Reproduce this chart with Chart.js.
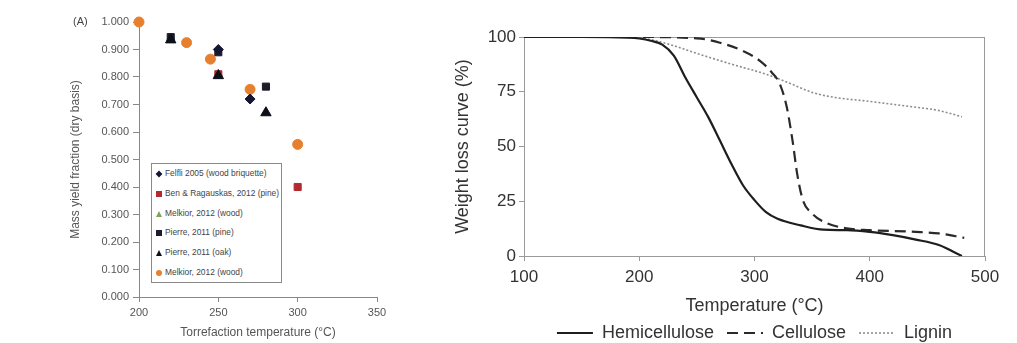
<!DOCTYPE html>
<html>
<head>
<meta charset="utf-8">
<script src="https://cdn.jsdelivr.net/npm/chart.js@4.4.1/dist/chart.umd.min.js"></script>
<style>
  body { margin: 0; background: #fff; font-family: "Liberation Sans", Arial, sans-serif; overflow: hidden; }
  #left { position: absolute; left: 0; top: 0; width: 420px; height: 343px; }
  #right { position: absolute; left: 440px; top: 0; width: 577px; height: 343px; }
  #legendA { position: absolute; left: 151px; top: 163px; width: 129px; height: 118px;
    border: 1px solid #8a8a8a; background: #fff; font-size: 8.4px; color: #444; padding-top: 0; }
  #legendA div { height: 19.8px; line-height: 19.8px; padding-left: 4px; white-space: nowrap; }
  #legendA span.sym { display: inline-block; width: 6px; height: 6px; margin-right: 3px; vertical-align: -1px; }
</style>
</head>
<body>
<div id="left"><canvas id="massChart" width="420" height="343"></canvas></div>
<div id="legendA"></div>
<div id="right"><canvas id="tgaChart" width="577" height="343"></canvas></div>
<script>
// ---- panel (A): mass yield vs torrefaction temperature ----
const felfliT = [250, 270];
const felfliY = [0.900, 0.720];
const benT = [250, 300];
const benY = [0.810, 0.400];
const melkiorGreenT = [220, 250, 280];
const melkiorGreenY = [0.940, 0.810, 0.670];
const pierrePineT = [220, 250, 280];
const pierrePineY = [0.945, 0.890, 0.765];
const pierreOakT = [220, 250, 280];
const pierreOakY = [0.935, 0.805, 0.670];
const melkiorT = [200, 230, 245, 270, 300];
const melkiorY = [1.000, 0.925, 0.865, 0.755, 0.555];
const yieldTicks = [0, 0.1, 0.2, 0.3, 0.4, 0.5, 0.6, 0.7, 0.8, 0.9, 1.0];
const torrTicks = [200, 250, 300, 350];

// ---- right panel: TGA weight loss curves ----
const hemiT = [100, 150, 190, 200, 210, 220, 230, 240, 250, 260, 270, 280, 290, 300, 310, 320, 340, 360, 380, 400, 420, 440, 460, 480];
const hemiW = [100, 100, 99.7, 99.3, 98.3, 96.5, 91.5, 81.5, 72.4, 63.3, 52.7, 42, 32.3, 25.5, 20, 17, 14, 12, 11.8, 11, 9.5, 7.5, 5, 0];
const celluT = [100, 200, 250, 270, 290, 305, 315, 322, 328, 333, 337, 342, 350, 360, 380, 400, 440, 460, 482];
const celluW = [100, 100, 99.4, 97.4, 93.6, 89, 83.8, 78.5, 68, 52.7, 37.6, 25.5, 19.4, 15.6, 12.6, 11.8, 11, 10.3, 8.3];
const ligninT = [100, 190, 210, 230, 250, 280, 310, 330, 350, 370, 400, 430, 460, 480];
const ligninW = [100, 100, 98.8, 96, 92.5, 87.6, 83, 79, 74.7, 72.4, 70.6, 68.6, 66.4, 63.6];
const tempTicks = [100, 200, 300, 400, 500];
const weightTicks = [0, 25, 50, 75, 100];

function pts(xs, ys) {
  return xs.map(function(x, i) { return { x: x, y: ys[i] }; });
}
function fixTicks(list) {
  return function(scale) { scale.ticks = list.map(function(v) { return { value: v }; }); };
}

// order: lower value is painted on top
const massSeries = [
  { label: 'Felfli 2005 (wood briquette)', data: pts(felfliT, felfliY), color: '#141632', style: 'rectRot', r: 5, sym: 'diamond', order: 0 },
  { label: 'Ben & Ragauskas, 2012 (pine)', data: pts(benT, benY), color: '#b02a2e', style: 'rect', r: 5, sym: 'square', order: 4 },
  { label: 'Melkior, 2012 (wood)', data: pts(melkiorGreenT, melkiorGreenY), color: '#7fa35a', style: 'triangle', r: 5, sym: 'triangle', order: 5 },
  { label: 'Pierre, 2011 (pine)', data: pts(pierrePineT, pierrePineY), color: '#1c1c2a', style: 'rect', r: 5, sym: 'square', order: 2 },
  { label: 'Pierre, 2011 (oak)', data: pts(pierreOakT, pierreOakY), color: '#0c1018', style: 'triangle', r: 6, sym: 'triangle', order: 1 },
  { label: 'Melkior, 2012 (wood)', data: pts(melkiorT, melkiorY), color: '#e6802e', style: 'circle', r: 5, sym: 'circle', order: 3 }
];

const panelLabel = {
  id: 'panelLabel',
  afterDraw: function(chart) {
    const ctx = chart.ctx;
    ctx.save();
    ctx.fillStyle = '#444';
    ctx.font = '11px "Liberation Sans", Arial, sans-serif';
    ctx.textBaseline = 'middle';
    ctx.fillText('(A)', 73, 22);
    ctx.restore();
  }
};

new Chart(document.getElementById('massChart'), {
  type: 'scatter',
  data: {
    datasets: massSeries.map(function(s) {
      return {
        label: s.label, data: s.data, pointStyle: s.style, pointRadius: s.r, order: s.order,
        backgroundColor: s.color, borderColor: s.color, borderWidth: 1, clip: false
      };
    })
  },
  options: {
    responsive: false, animation: false,
    layout: { padding: { left: 68, right: 43, top: 22, bottom: 0 } },
    plugins: { legend: { display: false }, tooltip: { enabled: false } },
    scales: {
      x: {
        type: 'linear', min: 200, max: 350,
        afterBuildTicks: fixTicks(torrTicks),
        afterFit: function(s) { s.height = 46; },
        grid: { drawOnChartArea: false, tickLength: 5, color: '#888' },
        border: { color: '#888' },
        ticks: { color: '#555', font: { size: 11 }, padding: 4 },
        title: { display: true, text: 'Torrefaction temperature (°C)', color: '#555', font: { size: 12 }, padding: { top: 4, bottom: 3 } }
      },
      y: {
        min: 0, max: 1,
        afterBuildTicks: fixTicks(yieldTicks),
        afterFit: function(s) { s.width = 71; },
        grid: { drawOnChartArea: false, tickLength: 6, color: '#888' },
        border: { color: '#888' },
        ticks: { color: '#555', font: { size: 11 }, padding: 4, callback: function(v) { return v.toFixed(3); } },
        title: { display: true, text: 'Mass yield fraction (dry basis)', color: '#555', font: { size: 12 }, padding: 0 }
      }
    }
  },
  plugins: [panelLabel]
});

// html legend for panel A, drawn from the same series list
const legendA = document.getElementById('legendA');
massSeries.forEach(function(s) {
  const row = document.createElement('div');
  const sym = document.createElement('span');
  sym.className = 'sym';
  if (s.sym === 'triangle') {
    sym.style.width = '0'; sym.style.height = '0';
    sym.style.borderLeft = '3px solid transparent';
    sym.style.borderRight = '3px solid transparent';
    sym.style.borderBottom = '6px solid ' + s.color;
  } else {
    sym.style.background = s.color;
    if (s.sym === 'circle') sym.style.borderRadius = '50%';
    if (s.sym === 'diamond') { sym.style.transform = 'rotate(45deg) scale(0.8)'; }
  }
  row.appendChild(sym);
  row.appendChild(document.createTextNode(s.label));
  legendA.appendChild(row);
});

const frameBox = {
  id: 'frameBox',
  beforeDatasetsDraw: function(chart) {
    const a = chart.chartArea, ctx = chart.ctx;
    ctx.save();
    ctx.strokeStyle = '#9a9a9a';
    ctx.lineWidth = 1;
    ctx.strokeRect(a.left + 0.5, a.top + 0.5, a.right - a.left - 1, a.bottom - a.top);
    ctx.restore();
  }
};

// centre the bottom legend under the plot area instead of the whole canvas
const centreLegend = {
  id: 'centreLegend',
  afterLayout: function(chart) {
    const l = chart.legend, a = chart.chartArea;
    const shift = (a.left + a.right) / 2 - (l.left + l.right) / 2;
    l.left += shift;
    l.right += shift;
  }
};

new Chart(document.getElementById('tgaChart'), {
  type: 'line',
  data: {
    datasets: [
      { label: 'Hemicellulose', data: pts(hemiT, hemiW), borderColor: '#1e1e1e', borderWidth: 2.2, pointRadius: 0, cubicInterpolationMode: 'monotone' },
      { label: 'Cellulose', data: pts(celluT, celluW), borderColor: '#2a2a2a', borderWidth: 2.2, borderDash: [11, 6], pointRadius: 0, cubicInterpolationMode: 'monotone' },
      { label: 'Lignin', data: pts(ligninT, ligninW), borderColor: '#8c8c8c', borderWidth: 1.6, borderDash: [2, 2], pointRadius: 0, cubicInterpolationMode: 'monotone' }
    ]
  },
  options: {
    responsive: false, animation: false,
    layout: { padding: { left: 12, right: 32, top: 37, bottom: -9 } },
    plugins: {
      tooltip: { enabled: false },
      legend: {
        position: 'bottom',
        labels: {
          usePointStyle: true, pointStyle: 'line', pointStyleWidth: 36, boxHeight: 12,
          color: '#333', font: { size: 18 }, padding: 3,
          generateLabels: function(chart) {
            const items = Chart.defaults.plugins.legend.labels.generateLabels(chart);
            items.forEach(function(it, i) {
              const ds = chart.data.datasets[it.datasetIndex];
              it.lineDash = ds.borderDash || [];
              it.lineWidth = ds.borderWidth;
              it.strokeStyle = ds.borderColor;
              if (i < items.length - 1) it.text = it.text + '  ';
            });
            return items;
          }
        }
      }
    },
    scales: {
      x: {
        type: 'linear', min: 100, max: 500,
        afterBuildTicks: fixTicks(tempTicks),
        afterFit: function(s) { s.height = 65; },
        grid: { drawOnChartArea: false, tickLength: 5, color: '#9a9a9a' },
        border: { color: '#9a9a9a' },
        ticks: { color: '#333', font: { size: 17 }, padding: 6 },
        title: { display: true, text: 'Temperature (°C)', color: '#333', font: { size: 18 }, padding: { top: 4 } }
      },
      y: {
        min: 0, max: 100,
        afterBuildTicks: fixTicks(weightTicks),
        afterFit: function(s) { s.width = 72; },
        grid: { drawOnChartArea: false, tickLength: 5, color: '#9a9a9a' },
        border: { color: '#9a9a9a' },
        ticks: { color: '#333', font: { size: 17 }, padding: 3 },
        title: { display: true, text: 'Weight loss curve (%)', color: '#333', font: { size: 18 }, padding: 0 }
      }
    }
  },
  plugins: [frameBox, centreLegend]
});
</script>
</body>
</html>
